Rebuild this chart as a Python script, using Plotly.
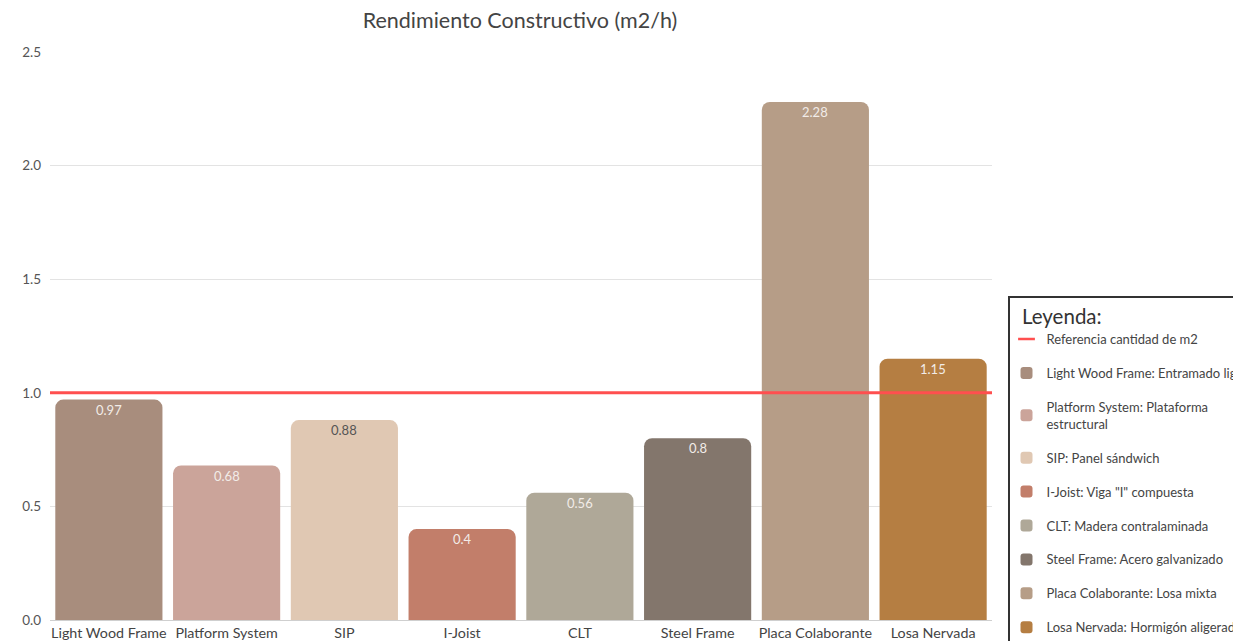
import plotly.graph_objects as go

categories = ["Light Wood Frame", "Platform System", "SIP", "I-Joist", "CLT",
              "Steel Frame", "Placa Colaborante", "Losa Nervada"]
values = [0.97, 0.68, 0.88, 0.4, 0.56, 0.8, 2.28, 1.15]
legend_names = [
    "Light Wood Frame: Entramado ligero",
    "Platform System: Plataforma<br>estructural",
    "SIP: Panel sándwich",
    "I-Joist: Viga \"I\" compuesta",
    "CLT: Madera contralaminada",
    "Steel Frame: Acero galvanizado",
    "Placa Colaborante: Losa mixta",
    "Losa Nervada: Hormigón aligerado",
]
colors = ["#A88D7D", "#CBA49A", "#E0C8B3", "#C27E6A", "#AFA898",
          "#83766C", "#B69D87", "#B57E42"]
text_colors = ["#F2ECE8", "#F2ECE8", "#555555", "#F2ECE8", "#F2ECE8",
               "#F2ECE8", "#F2ECE8", "#F2ECE8"]
reference_value = 1.0
reference_name = "Referencia cantidad de m2"
y_ticks = [0.0, 0.5, 1.0, 1.5, 2.0, 2.5]

FONT = "Lato"
W, H = 1233, 633  # page body has an 8px margin

fig = go.Figure()

fig.add_trace(go.Scatter(
    x=[None], y=[None], mode="markers", name=reference_name,
    marker=dict(symbol="line-ew-open", size=12, color="#FF4F4F",
                line=dict(color="#FF4F4F", width=2.5)),
    legendgroup="ref", legendrank=1,
))

for i, (c, v, n, col) in enumerate(zip(categories, values, legend_names, colors)):
    fig.add_trace(go.Bar(
        x=[c], y=[v], name=n, width=0.91,
        marker=dict(color=col, cornerradius=8, line=dict(width=0)),
        hoverinfo="x+y",
        legendgroup=f"g{i}", legendrank=2 + i,
    ))

# value labels just under each bar top
for c, v, tc in zip(categories, values, text_colors):
    fig.add_annotation(x=c, y=v, xref="x", yref="y", text=f"{v:g}",
                       showarrow=False, yanchor="middle", yshift=-10,
                       font=dict(family=FONT, size=13, color=tc))

fig.add_shape(type="line", xref="paper", x0=0, x1=1, yref="y",
              y0=reference_value, y1=reference_value,
              line=dict(color="#FF4F4F", width=3), layer="above")

L, T, PW, PH = 42, 44, 942, 568
fig.update_layout(
    width=W, height=H,
    margin=dict(l=L, r=W - L - PW, t=T, b=H - T - PH, autoexpand=False),
    paper_bgcolor="white", plot_bgcolor="white",
    barmode="overlay",
    font=dict(family=FONT, color="#555555"),
    title=dict(text="Rendimiento Constructivo (m2/h)", x=512 / W, xanchor="center",
               y=1 - 12 / H, yanchor="middle",
               font=dict(family=FONT, size=21.5, color="#444444")),
    xaxis=dict(type="category", categoryorder="array", categoryarray=categories,
               tickfont=dict(family=FONT, size=14.3, color="#444444"),
               showgrid=False, showline=False, ticks="", ticklabelstandoff=3),
    yaxis=dict(range=[0, 2.5], tickvals=y_ticks,
               ticktext=[f"{t:.1f}" for t in y_ticks],
               tickfont=dict(family=FONT, size=13.5, color="#555555"),
               showgrid=True, gridcolor="#E3E3E3", gridwidth=1,
               zeroline=True, zerolinecolor="#CFCFCF", zerolinewidth=1,
               ticks="", ticklabelstandoff=8),
    legend=dict(
        x=(1000 - L) / PW, xanchor="left",
        y=(T + PH - 288) / PH, yanchor="top",
        bordercolor="#333333", borderwidth=1.5, bgcolor="white",
        font=dict(family=FONT, size=13, color="#444444"),
        title=dict(text="&nbsp;&nbsp;Leyenda:",
                   font=dict(family=FONT, size=20.5, color="#333333")),
        tracegroupgap=14, itemwidth=30, traceorder="grouped", indentation=-3,
    ),
    showlegend=True,
)

fig.write_html("out.html")
